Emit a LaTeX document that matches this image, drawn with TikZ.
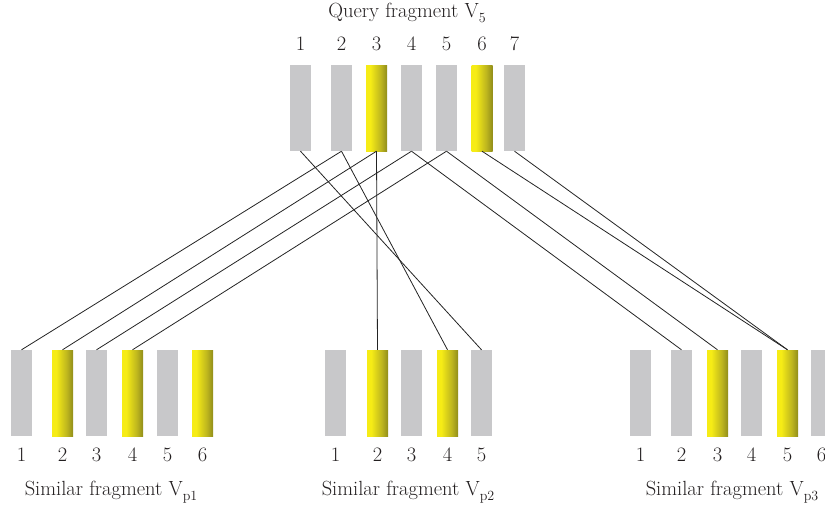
\documentclass[tikz,border=0pt]{standalone}
\usepackage{fontspec}
\definecolor{barGray}{RGB}{200,200,202}
\definecolor{barYellow}{RGB}{246,236,22}
\definecolor{barMid}{RGB}{190,182,30}
\definecolor{barDeep}{RGB}{130,128,25}
\definecolor{barOlive}{RGB}{95,94,20}
\definecolor{linkCol}{RGB}{35,35,35}
\definecolor{txtCol}{RGB}{35,31,32}
\pgfdeclarehorizontalshading{yellowfade}{100bp}{color(0bp)=(barYellow); color(35bp)=(barYellow); color(60bp)=(barMid); color(80bp)=(barDeep); color(100bp)=(barOlive)}
\newcommand\lowsub[1]{\raisebox{-5pt}{\fontsize{14}{14}\selectfont #1}}
\begin{document}
\begin{tikzpicture}[x=1pt,y=-1pt,
  font=\fontsize{20.5}{24}\selectfont, text=txtCol,
  plainbar/.style={minimum width=21pt, minimum height=86pt, inner sep=0pt, fill=barGray},
  hlbar/.style={minimum width=21pt, minimum height=86pt, inner sep=0pt, shading=yellowfade},
  num/.style={anchor=base, inner sep=0pt},
  lbl/.style={anchor=base, inner sep=0pt},
  link/.style={draw=linkCol, line width=0.8pt}]
\useasboundingbox (0,0) rectangle (825,509);
\clip (0,0) rectangle (825,509);

% query fragment
\foreach \i/\x/\s in {1/300.5/plainbar,2/341.5/plainbar,3/376.5/hlbar,4/411.5/plainbar,5/446.5/plainbar,6/482/hlbar,7/514.5/plainbar}{
  \node[\s] (q\i) at (\x,108) {};
  \node[num] (qn\i) at (\x,50) {\i};
}
\node[lbl] (qt) at (407,17) {Query fragment V\lowsub{5}};

% similar fragment p1
\foreach \i/\x/\s in {1/21.5/plainbar,2/62.5/hlbar,3/96.5/plainbar,4/132.5/hlbar,5/167.5/plainbar,6/202.5/hlbar}{
  \node[\s] (a\i) at (\x,393) {};
  \node[num] (an\i) at (\x,461) {\i};
}
\node[lbl] (at) at (111,495) {Similar fragment V\lowsub{p1}};

% similar fragment p2
\foreach \i/\x/\s in {1/335.5/plainbar,2/377.5/hlbar,3/411.5/plainbar,4/447.5/hlbar,5/481.5/plainbar}{
  \node[\s] (b\i) at (\x,393) {};
  \node[num] (bn\i) at (\x,461) {\i};
}
\node[lbl] (bt) at (408,495) {Similar fragment V\lowsub{p2}};

% similar fragment p3
\foreach \i/\x/\s in {1/640.5/plainbar,2/681.5/plainbar,3/717.5/hlbar,4/751.5/plainbar,5/787.5/hlbar,6/821.5/plainbar}{
  \node[\s] (c\i) at (\x,393) {};
  \node[num] (cn\i) at (\x,461) {\i};
}
\node[lbl] (ct) at (732,495) {Similar fragment V\lowsub{p3}};

% matches
\foreach \u/\v in {q1/b5,q2/a1,q2/b4,q3/a2,q3/b2,q4/a3,q4/c2,q5/a4,q5/c3,q6/c5,q7/c5}{
  \draw[link] (\u.south) -- (\v.north);
}
\end{tikzpicture}
\end{document}
